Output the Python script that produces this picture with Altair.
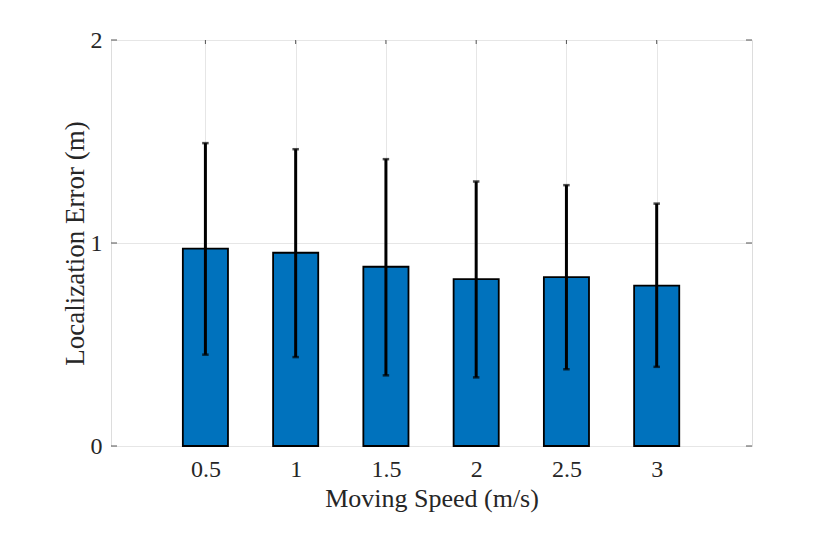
import altair as alt
import pandas as pd

speeds = [0.5, 1.0, 1.5, 2.0, 2.5, 3.0]
mean_err = [0.972, 0.952, 0.883, 0.822, 0.832, 0.790]
err_lo = [0.450, 0.438, 0.348, 0.338, 0.378, 0.390]
err_hi = [1.492, 1.462, 1.413, 1.303, 1.285, 1.194]
y_ticks = [0, 1, 2]

df = pd.DataFrame({"speed": speeds, "mean": mean_err, "lo": err_lo, "hi": err_hi})
ydf = pd.DataFrame({"yv": y_ticks})

W, H = 641, 406
FONT = "Liberation Serif"
TXT = "#262626"

xscale = alt.Scale(domain=[-0.023, 3.528], nice=False, zero=False, padding=0)
yscale = alt.Scale(domain=[0, 2], nice=False, padding=0)

xaxis = alt.Axis(
    values=speeds, labelExpr="'' + datum.value", title="Moving Speed (m/s)",
    grid=True, gridColor="#e6e6e6", gridWidth=1, ticks=False, tickSize=0,
    domain=False, labelFont=FONT, labelFontSize=24, labelColor=TXT,
    labelPadding=11, titleFont=FONT, titleFontSize=26, titleFontWeight="normal",
    titleColor=TXT, titleBaseline="alphabetic", titleY=60, titleX=W / 2,
    titleAlign="center",
)
yaxis = alt.Axis(
    values=y_ticks, labelExpr="'' + datum.value", title="Localization Error (m)",
    grid=True, gridColor="#e6e6e6",
    gridWidth=1, ticks=False, tickSize=0, domain=False, labelFont=FONT,
    labelFontSize=24, labelColor=TXT, labelPadding=9, titleFont=FONT,
    titleFontSize=27, titleFontWeight="normal", titleColor=TXT,
    titleBaseline="alphabetic", titleAngle=-90, titleX=-28, titleY=203,
    titleAlign="center",
)

base = alt.Chart(df)

bars = base.transform_calculate(
    x0="datum.speed - 0.125", x1="datum.speed + 0.125"
).mark_bar(color="#0072BD", stroke="black", strokeWidth=1.8).encode(
    x=alt.X("x0:Q", scale=xscale, axis=xaxis),
    x2="x1:Q",
    y=alt.Y("mean:Q", scale=yscale, axis=yaxis),
    y2=alt.datum(0),
)

rules = base.mark_rule(color="black", strokeWidth=3).encode(
    x=alt.X("speed:Q", scale=xscale, axis=None),
    y=alt.Y("lo:Q", scale=yscale, axis=None), y2="hi:Q"
)
cap_hi = base.mark_tick(color="black", orient="horizontal", size=6.5, thickness=2.5).encode(
    x=alt.X("speed:Q", scale=xscale, axis=None), y=alt.Y("hi:Q", scale=yscale, axis=None)
)
cap_lo = base.mark_tick(color="black", orient="horizontal", size=6.5, thickness=2.5).encode(
    x=alt.X("speed:Q", scale=xscale, axis=None), y=alt.Y("lo:Q", scale=yscale, axis=None)
)

top_ticks = base.mark_rule(color="#555", strokeWidth=1).encode(
    x=alt.X("speed:Q", scale=xscale, axis=None), y=alt.value(0), y2=alt.value(4)
)
right_ticks = alt.Chart(ydf).mark_rule(color="#555", strokeWidth=1).encode(
    y=alt.Y("yv:Q", scale=yscale, axis=None), x=alt.value(W - 6), x2=alt.value(W)
)
left_ticks = alt.Chart(ydf).mark_rule(color="#555", strokeWidth=1).encode(
    y=alt.Y("yv:Q", scale=yscale, axis=None), x=alt.value(0), x2=alt.value(6)
)

chart = alt.layer(bars, rules, cap_hi, cap_lo, top_ticks, right_ticks, left_ticks).resolve_scale(
    x="independent", y="independent"
).properties(
    width=W, height=H,
    autosize=alt.AutoSizeParams(type="none"),
    padding={"left": 103, "top": 32, "right": 70, "bottom": 80},
).configure_view(stroke="#7a7a7a", strokeWidth=1).configure(background="white")

chart.save("out.html", embed_options={"renderer": "svg", "actions": False})
